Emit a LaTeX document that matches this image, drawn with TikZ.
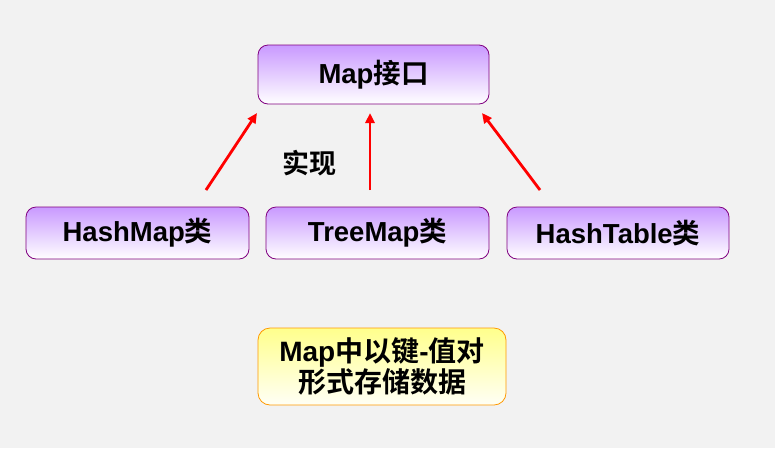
\documentclass[tikz,border=0pt]{standalone}
\usepackage{fontspec}
\setmainfont{Liberation Sans}
\newfontfamily\cjk{Noto Sans CJK SC}[BoldFont={* Bold}]
\usetikzlibrary{arrows.meta, positioning}
\definecolor{mapPurple}{HTML}{800080}
\definecolor{mapLilac}{HTML}{C999FF}
\definecolor{mapOrange}{HTML}{FF9900}
\definecolor{mapYellow}{HTML}{FFFF8C}
\definecolor{mapBack}{HTML}{F2F2F2}
\definecolor{mapRed}{HTML}{FF0000}
\tikzset{
  classbox/.style  = {draw=mapPurple, line width=0.8pt, rounded corners=10pt,
                      top color=mapLilac, bottom color=white,
                      font=\fontsize{27.5}{30}\selectfont\bfseries},
  notebox/.style   = {draw=mapOrange, line width=0.8pt, rounded corners=12pt,
                      top color=mapYellow, bottom color=white!92!mapYellow,
                      align=center,
                      font=\fontsize{28}{29}\selectfont\bfseries},
  implarrow/.style = {-{Triangle[length=10pt, width=9pt]}, mapRed, line width=2.8pt},
  lbl/.style       = {font=\fontsize{27}{30}\selectfont\bfseries},
}

\begin{document}
\begin{tikzpicture}[x=1pt, y=-1pt]
  \fill[mapBack] (0,0) rectangle (775,448);
  \useasboundingbox (0,0) rectangle (775,448);

  % interface and classes
  \node[classbox, minimum width=231pt, minimum height=59pt] (map) at (373.5,74.5)
    {Map{\cjk\bfseries 接口}};
  \node[classbox, minimum width=223pt, minimum height=52pt] (hashmap) at (137.5,233)
    {HashMap{\cjk\bfseries 类}};
  \node[classbox, minimum width=223pt, minimum height=52pt] (treemap) at (377.5,233)
    {TreeMap{\cjk\bfseries 类}};
  \node[classbox, minimum width=222pt, minimum height=52pt] (hashtable) at (618,233)
    {HashTable{\cjk\bfseries 类}};

  % note
  \node[notebox, minimum width=248pt, minimum height=77pt] (note) at (382,366.5)
    {Map{\cjk\bfseries 中以键}-{\cjk\bfseries 值对}\\{\cjk\bfseries 形式存储数据}};

  % arrow ends
  \coordinate (hmtail) at (206,190);
  \coordinate (hmhead) at (257,113);
  \coordinate (tmtail) at (370,190);
  \coordinate (tmhead) at (370,113);
  \coordinate (httail) at (540,190);
  \coordinate (hthead) at (482,113);

  \draw[implarrow] (hmtail) -- (hmhead);
  \draw[implarrow] (tmtail) -- (tmhead);
  \draw[implarrow] (httail) -- (hthead);

  \node[lbl] (impl) at (309,163) {\cjk\bfseries 实现};
\end{tikzpicture}
\end{document}
